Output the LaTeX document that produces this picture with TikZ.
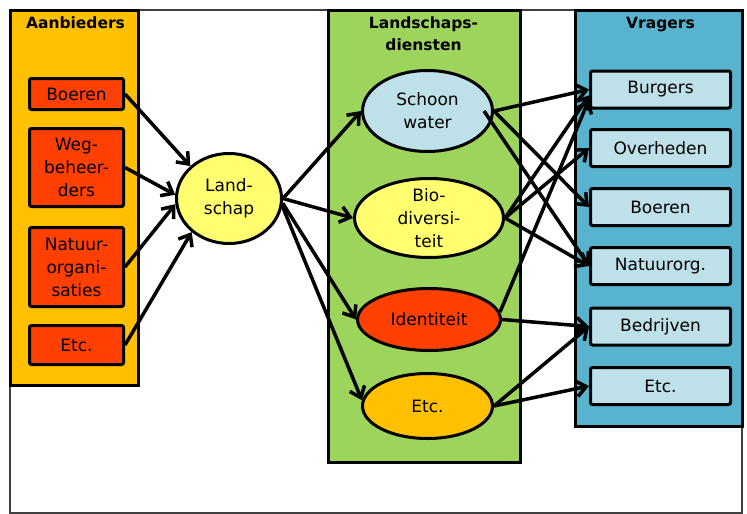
\documentclass[tikz,border=0pt]{standalone}
\usepackage{fontspec}
\setmainfont{DejaVu Sans}
\usepackage{tikz}
\usetikzlibrary{arrows.meta,shapes.geometric,positioning}
\definecolor{oranje}{HTML}{FFC000}
\definecolor{rood}{HTML}{FF4000}
\definecolor{groen}{HTML}{9DD45C}
\definecolor{blauw}{HTML}{58B4CE}
\definecolor{lichtblauw}{HTML}{BEE0E9}
\definecolor{geel}{HTML}{FFFF70}

\begin{document}
\begin{tikzpicture}[x=1pt, y=-1pt, font=\fontsize{17}{23}\selectfont,
    kolom/.style={draw=black, line width=3pt},
    titel/.style={anchor=north, inner sep=0pt, align=center, font=\fontsize{15.5}{22}\selectfont\bfseries},
    aanbieder/.style={rectangle, draw, line width=3pt, fill=rood, rounded corners=2pt, minimum width=94pt, inner sep=0pt, align=center},
    vrager/.style={rectangle, draw, line width=3pt, fill=lichtblauw, rounded corners=2pt, minimum width=140pt, minimum height=37pt, inner sep=0pt},
    dienst/.style={ellipse, draw, line width=3pt, inner sep=0pt, align=center},
    pijl/.style={line width=3.5pt, -{Straight Barb[length=10pt,width=16pt]}}]
    \useasboundingbox (0,0) rectangle (747,514);
    \draw[black!75, line width=2.5pt] (10,10) rectangle (742,513);
    \filldraw[kolom, fill=oranje] (10,10) rectangle (138,385);
    \filldraw[kolom, fill=groen] (328,10) rectangle (520,462);
    \filldraw[kolom, fill=blauw] (575,10) rectangle (742,426);

    \node[titel] (aanbieders) at (75.5,17) {Aanbieders};
    \node[titel] (diensten) at (423.5,17) {Landschaps-\\diensten};
    \node[titel] (vragers) at (660.5,17) {Vragers};

    \node[aanbieder, minimum height=31pt] (boeren) at (76.5,94) {Boeren};
    \node[aanbieder, minimum height=78pt] (weg) at (76.5,167.5) {Weg-\\beheer-\\ders};
    \node[aanbieder, minimum height=79pt] (natuur) at (76.5,267) {Natuur-\\organi-\\saties};
    \node[aanbieder, minimum height=39pt] (etcA) at (76.5,345) {Etc.};

    \node[dienst, fill=geel, minimum width=105pt, minimum height=90pt] (landschap) at (229,198.5) {Land-\\schap};

    \node[dienst, fill=lichtblauw, minimum width=130pt, minimum height=81pt] (schoon) at (427.5,111) {Schoon\\water};
    \node[dienst, fill=geel, minimum width=149pt, minimum height=79pt, inner ysep=-2pt] (bio) at (429,218) {Bio-\\diversi-\\teit};
    \node[dienst, fill=rood, minimum width=143pt, minimum height=62pt] (identiteit) at (429,319.5) {Identiteit};
    \node[dienst, fill=oranje, minimum width=130pt, minimum height=65pt] (etcD) at (427.5,406) {Etc.};

    \node[vrager] (burgers) at (660.5,89.5) {Burgers};
    \node[vrager] (overheden) at (660.5,148) {Overheden};
    \node[vrager] (boerenV) at (660.5,207) {Boeren};
    \node[vrager] (natuurorg) at (660.5,266) {Natuurorg.};
    \node[vrager] (bedrijven) at (660.5,326.5) {Bedrijven};
    \node[vrager] (etcV) at (660.5,386) {Etc.};

    \draw[pijl] (boeren.east) -- (landschap.140);
    \draw[pijl] (weg.east) -- (landschap.176);
    \draw[pijl] (natuur.east) -- (landschap.186);
    \draw[pijl] (etcA.east) -- (landschap.222);

    \draw[pijl] (landschap.east) -- (schoon.west);
    \draw[pijl] (landschap.east) -- (bio.west);
    \draw[pijl] (landschap.-5) -- (identiteit.west);
    \draw[pijl] (landschap.-8) -- (etcD.175);

    \draw[pijl] (schoon.east) -- (burgers.west);
    \draw[pijl] (schoon.east) -- (boerenV.west);
    \draw[pijl] ([xshift=-10pt]schoon.east) -- (natuurorg.west);
    \draw[pijl] (bio.east) -- ([yshift=-6pt]burgers.west);
    \draw[pijl] (bio.east) -- (overheden.west);
    \draw[pijl] (bio.east) -- (natuurorg.west);
    \draw[pijl] (identiteit.6) -- ([yshift=-10pt]burgers.west);
    \draw[pijl] (identiteit.east) -- (bedrijven.west);
    \draw[pijl] (etcD.east) -- (bedrijven.west);
    \draw[pijl] (etcD.east) -- (etcV.west);
\end{tikzpicture}
\end{document}
